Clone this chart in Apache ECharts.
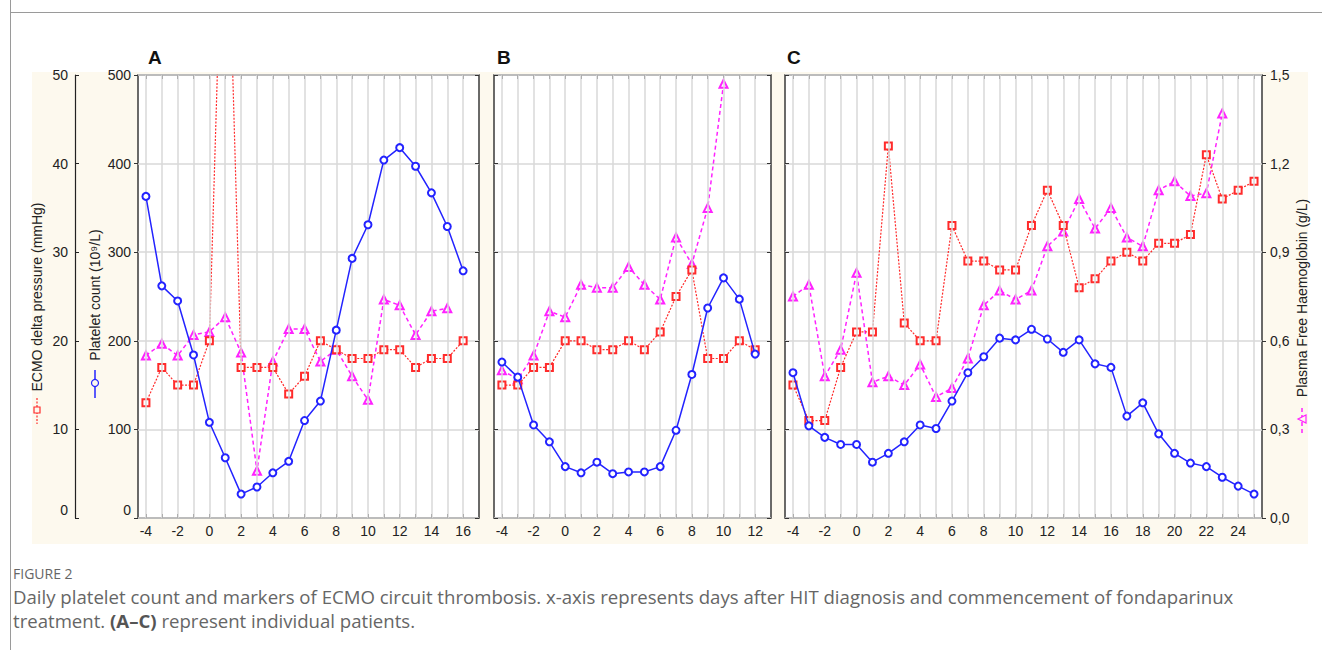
<!DOCTYPE html>
<html>
<head>
<meta charset="utf-8">
<title>Figure 2</title>
<script src="https://cdn.jsdelivr.net/npm/echarts@6.0.0/dist/echarts.min.js"></script>
<style>
  html, body { margin: 0; padding: 0; background: #fff; }
  #chart { width: 1322px; height: 650px; }
</style>
</head>
<body>
<div id="chart"></div>
<script>
// days after HIT diagnosis, one array per patient
const daysA = [-4, -3, -2, -1, 0, 1, 2, 3, 4, 5, 6, 7, 8, 9, 10, 11, 12, 13, 14, 15, 16]
const daysB = [-4, -3, -2, -1, 0, 1, 2, 3, 4, 5, 6, 7, 8, 9, 10, 11, 12]
const daysC = [-4, -3, -2, -1, 0, 1, 2, 3, 4, 5, 6, 7, 8, 9, 10, 11, 12, 13, 14, 15, 16, 17, 18, 19, 20, 21, 22, 23, 24, 25]

// platelet count (10^9/L)
const plateletA = [363, 262, 245, 184, 108, 68, 27, 35, 51, 64, 110, 132, 212, 293, 331, 404, 418, 397, 367, 329, 279]
const plateletB = [176, 159, 105, 86, 58, 51, 63, 50, 52, 52, 58, 99, 162, 237, 271, 247, 185]
const plateletC = [164, 104, 91, 83, 83, 63, 73, 86, 105, 101, 132, 164, 182, 203, 201, 213, 202, 187, 201, 174, 170, 115, 130, 95, 73, 62, 58, 46, 36, 27]

// ECMO delta pressure (mmHg)
const ecmoA = [13, 17, 15, 15, 20, 80, 17, 17, 17, 14, 16, 20, 19, 18, 18, 19, 19, 17, 18, 18, 20]
const ecmoB = [15, 15, 17, 17, 20, 20, 19, 19, 20, 19, 21, 25, 28, 18, 18, 20, 19]
const ecmoC = [15, 11, 11, 17, 21, 21, 42, 22, 20, 20, 33, 29, 29, 28, 28, 33, 37, 33, 26, 27, 29, 30, 29, 31, 31, 32, 41, 36, 37, 38]

// plasma free haemoglobin (g/L)
const hbA = [0.55, 0.59, 0.55, 0.62, 0.63, 0.68, 0.56, 0.16, 0.53, 0.64, 0.64, 0.53, 0.57, 0.48, 0.40, 0.74, 0.72, 0.62, 0.70, 0.71, null]
const hbB = [0.50, 0.47, 0.55, 0.70, 0.68, 0.79, 0.78, 0.78, 0.85, 0.79, 0.74, 0.95, 0.86, 1.05, 1.47, null, null]
const hbC = [0.75, 0.79, 0.48, 0.57, 0.83, 0.46, 0.48, 0.45, 0.52, 0.41, 0.44, 0.54, 0.72, 0.77, 0.74, 0.77, 0.92, 0.97, 1.08, 0.98, 1.05, 0.95, 0.92, 1.11, 1.14, 1.09, 1.10, 1.37, null, null]

// tick labels
const labelsA = [-4, -2, 0, 2, 4, 6, 8, 10, 12, 14, 16]
const labelsB = [-4, -2, 0, 2, 4, 6, 8, 10, 12]
const labelsC = [-4, -2, 0, 2, 4, 6, 8, 10, 12, 14, 16, 18, 20, 22, 24]

const FONT = '"Liberation Sans", Arial, sans-serif'
const CAPTION_FONT = '"Open Sans", sans-serif'
const BLUE = '#2323ff'
const RED = '#ff2b2b'
const MAGENTA = '#ff22ff'
const GRID_GRAY = '#d9d9d9'

// layout of the three panels (pixels) and x-range
const panels = [
  {days: daysA, platelet: plateletA, ecmo: ecmoA, hb: hbA, labels: labelsA, left: 138, width: 341, xmax: 17},
  {days: daysB, platelet: plateletB, ecmo: ecmoB, hb: hbB, labels: labelsB, left: 494, width: 277, xmax: 13},
  {days: daysC, platelet: plateletC, ecmo: ecmoC, hb: hbC, labels: labelsC, left: 785, width: 477, xmax: 25.5},
]

const pairs = (days, vals) => days.map((d, i) => [d, vals[i]])
const tickText = {color: '#222', fontSize: 14, fontFamily: FONT}
const zeroRich = {z: {fontSize: 14, color: '#222', fontFamily: FONT, padding: [0, 0, 16, 0]}}

let grids = []
let xAxes = []
let yAxes = []
let series = []

panels.forEach((p, i) => {
  grids.push({
    left: p.left, top: 75, width: p.width, height: 443,
    show: true, backgroundColor: '#fff', borderColor: '#3a3a3a', borderWidth: 1.5
  })

  // bottom axis with labels, top axis only for the tick marks
  xAxes.push({
    type: 'value', gridIndex: i, position: 'bottom', min: -4.5, max: p.xmax,
    axisLine: {show: false, onZero: false},
    axisTick: {show: true, inside: true, length: 4, customValues: p.days, lineStyle: {color: '#333'}},
    axisLabel: Object.assign({customValues: p.labels, margin: 6}, tickText),
    splitLine: {show: false}
  })
  xAxes.push({
    type: 'value', gridIndex: i, position: 'top', min: -4.5, max: p.xmax,
    axisLine: {show: false, onZero: false},
    axisTick: {show: true, inside: true, length: 4, customValues: p.days, lineStyle: {color: '#333'}},
    axisLabel: {show: false},
    splitLine: {show: false}
  })

  // platelet axis (carries the horizontal grid)
  yAxes.push({
    type: 'value', gridIndex: i, position: 'left', min: 0, max: 500, interval: 100,
    axisLine: {show: false, onZero: false},
    axisTick: {show: true, inside: i > 0, length: 4, lineStyle: {color: '#333'}},
    axisLabel: Object.assign({
      show: i === 0, margin: 7,
      formatter: v => v === 0 ? '{z|0}' : String(v),
      rich: zeroRich
    }, tickText),
    splitLine: {show: true, lineStyle: {color: GRID_GRAY, width: 1.5}}
  })

  // ECMO delta pressure axis, drawn only on panel A (offset to the far left)
  yAxes.push({
    type: 'value', gridIndex: i, position: 'left', min: 0, max: 50, interval: 10,
    show: i === 0, offset: 63,
    axisLine: {show: true, onZero: false, lineStyle: {color: '#222', width: 1.2}},
    axisTick: {show: true, inside: true, length: 4, lineStyle: {color: '#222'}},
    axisLabel: Object.assign({
      margin: 7,
      formatter: v => v === 0 ? '{z|0}' : String(v),
      rich: zeroRich
    }, tickText),
    splitLine: {show: false}
  })

  // haemoglobin axis on the right, labels only on panel C
  yAxes.push({
    type: 'value', gridIndex: i, position: 'right', min: 0, max: 1.5, interval: 0.3,
    axisLine: {show: false, onZero: false},
    axisTick: {show: true, inside: i < 2, length: 4, lineStyle: {color: '#333'}},
    axisLabel: Object.assign({
      show: i === 2, margin: 8,
      formatter: v => v.toFixed(1).replace('.', ',')
    }, tickText),
    splitLine: {show: false}
  })

  // vertical grid lines, one per day
  series.push({
    type: 'line', xAxisIndex: 2 * i, yAxisIndex: 3 * i, data: [], z: 1, silent: true,
    markLine: {
      silent: true, symbol: ['none', 'none'], label: {show: false}, animation: false,
      lineStyle: {color: GRID_GRAY, width: 1.5, type: 'solid'},
      data: p.days.map(d => ({xAxis: d}))
    }
  })

  series.push({
    name: 'Plasma Free Haemoglobin', type: 'line', xAxisIndex: 2 * i, yAxisIndex: 3 * i + 2, z: 3,
    data: pairs(p.days, p.hb),
    symbol: 'emptyTriangle', symbolSize: 8,
    lineStyle: {color: MAGENTA, width: 1.5, type: [4, 3]},
    itemStyle: {color: MAGENTA, borderWidth: 1}
  })
  series.push({
    name: 'ECMO delta pressure', type: 'line', xAxisIndex: 2 * i, yAxisIndex: 3 * i + 1, z: 4,
    data: pairs(p.days, p.ecmo),
    symbol: 'emptyRect', symbolSize: 7,
    lineStyle: {color: RED, width: 1.2, type: [2, 1.5]},
    itemStyle: {color: RED, borderWidth: 1.1}
  })
  series.push({
    name: 'Platelet count', type: 'line', xAxisIndex: 2 * i, yAxisIndex: 3 * i, z: 5,
    data: pairs(p.days, p.platelet),
    symbol: 'emptyCircle', symbolSize: 7,
    lineStyle: {color: BLUE, width: 1.5},
    itemStyle: {color: BLUE, borderWidth: 1.1}
  })
})

const axisName = (text, x, y) => ({
  type: 'text', x: x, y: y, rotation: Math.PI / 2, z: 10,
  style: {text: text, fill: '#222', fontSize: 14, fontFamily: FONT, align: 'center', verticalAlign: 'middle'}
})

const graphic = [
  // cream figure background and page frame
  {type: 'rect', z: -10, shape: {x: 32, y: 72, width: 1276, height: 472}, style: {fill: '#fdf9ee'}},
  {type: 'line', z: 10, shape: {x1: 10.5, y1: 0, x2: 10.5, y2: 650}, style: {stroke: '#9a9a9a', lineWidth: 1}},
  {type: 'line', z: 10, shape: {x1: 10, y1: 12.5, x2: 1322, y2: 12.5}, style: {stroke: '#9a9a9a', lineWidth: 1}},

  // panel letters
  {type: 'text', x: 148, y: 57, z: 10, style: {text: 'A', fontSize: 19, fontWeight: 'bold', fontFamily: FONT, fill: '#111', verticalAlign: 'middle'}},
  {type: 'text', x: 497, y: 57, z: 10, style: {text: 'B', fontSize: 19, fontWeight: 'bold', fontFamily: FONT, fill: '#111', verticalAlign: 'middle'}},
  {type: 'text', x: 787, y: 57, z: 10, style: {text: 'C', fontSize: 19, fontWeight: 'bold', fontFamily: FONT, fill: '#111', verticalAlign: 'middle'}},

  // axis titles with their legend keys
  axisName('ECMO delta pressure (mmHg)', 37, 297),
  {type: 'line', z: 10, shape: {x1: 37, y1: 398, x2: 37, y2: 424}, style: {stroke: RED, lineWidth: 1.2, lineDash: [2, 1.5]}},
  {type: 'rect', z: 11, shape: {x: 34, y: 407, width: 6, height: 6}, style: {stroke: RED, fill: '#fdf9ee', lineWidth: 1.2}},

  axisName('Platelet count (10⁹/L)', 95, 295),
  {type: 'line', z: 10, shape: {x1: 95, y1: 370, x2: 95, y2: 398}, style: {stroke: BLUE, lineWidth: 1.5}},
  {type: 'circle', z: 11, shape: {cx: 95, cy: 383, r: 3.5}, style: {stroke: BLUE, fill: '#fdf9ee', lineWidth: 1.2}},

  axisName('Plasma Free Haemoglobin (g/L)', 1302, 298),
  {type: 'line', z: 10, shape: {x1: 1302, y1: 408, x2: 1302, y2: 433}, style: {stroke: MAGENTA, lineWidth: 1.5, lineDash: [4, 3]}},
  {type: 'polygon', z: 11, shape: {points: [[1298, 419], [1306, 415], [1306, 423]]}, style: {stroke: MAGENTA, fill: '#fdf9ee', lineWidth: 1.2}},

  // caption
  {type: 'text', x: 13, y: 573, z: 10, style: {text: 'FIGURE 2', fontSize: 14, fontFamily: CAPTION_FONT, fill: '#666', verticalAlign: 'middle'}},
  {type: 'text', x: 13, y: 596, z: 10, style: {
    text: 'Daily platelet count and markers of ECMO circuit thrombosis. x-axis represents days after HIT diagnosis and commencement of fondaparinux',
    fontSize: 18.6, fontFamily: CAPTION_FONT, fill: '#666', verticalAlign: 'middle'}},
  {type: 'text', x: 13, y: 620, z: 10, style: {
    text: 'treatment. {b|(A–C)} represent individual patients.',
    fontSize: 18.6, fontFamily: CAPTION_FONT, fill: '#666', verticalAlign: 'middle',
    rich: {b: {fontSize: 18.6, fontWeight: 'bold', fontFamily: CAPTION_FONT, fill: '#555'}}}}
]

let chartInstance = echarts.init(document.getElementById('chart'), null, {renderer: 'svg'})
chartInstance.setOption({
  backgroundColor: '#fff',
  animation: false,
  grid: grids,
  xAxis: xAxes,
  yAxis: yAxes,
  series: series,
  graphic: graphic
})
</script>
</body>
</html>
